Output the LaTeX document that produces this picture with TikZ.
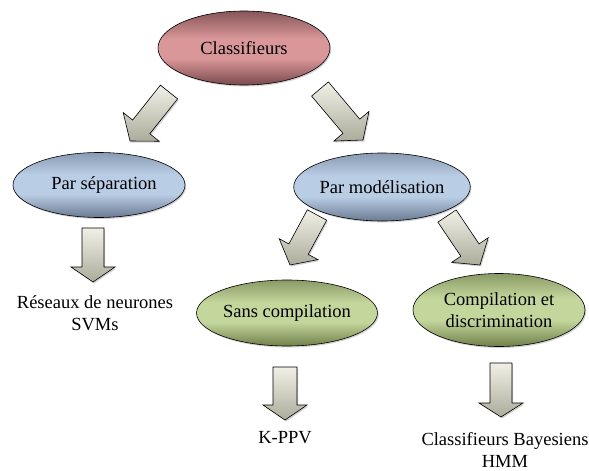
\documentclass[tikz,border=0pt]{standalone}
\usepackage{fontspec}
\setmainfont{Liberation Serif}
\usetikzlibrary{shapes.geometric,calc,shadows}
\definecolor{redtop}{HTML}{875659}
\definecolor{redmid}{HTML}{DA9799}
\definecolor{redbot}{HTML}{7A4A4D}
\definecolor{bluetop}{HTML}{8A9BB2}
\definecolor{bluemid}{HTML}{B9CDE5}
\definecolor{bluebot}{HTML}{6A7A91}
\definecolor{greentop}{HTML}{8A9A66}
\definecolor{greenmid}{HTML}{C3D69B}
\definecolor{greenbot}{HTML}{70804A}
\definecolor{arrlight}{HTML}{F0F0E6}
\definecolor{arrdark}{HTML}{ACAC9C}
\pgfdeclareverticalshading{redsh}{100bp}{color(0bp)=(redbot); color(25bp)=(redbot); color(43bp)=(redmid); color(56bp)=(redmid); color(75bp)=(redtop); color(100bp)=(redtop)}
\pgfdeclareverticalshading{bluesh}{100bp}{color(0bp)=(bluebot); color(25bp)=(bluebot); color(43bp)=(bluemid); color(58bp)=(bluemid); color(75bp)=(bluetop); color(100bp)=(bluetop)}
\pgfdeclareverticalshading{greensh}{100bp}{color(0bp)=(greenbot); color(25bp)=(greenbot); color(43bp)=(greenmid); color(58bp)=(greenmid); color(75bp)=(greentop); color(100bp)=(greentop)}
\tikzset{
  oval/.style={ellipse, draw=black, line width=0.6pt, inner sep=0pt,
    font=\fontsize{18.5}{21.5}\selectfont, align=center,
    drop shadow={shadow xshift=1.2pt, shadow yshift=-1.5pt, opacity=0.35}},
  redoval/.style={oval, shading=redsh},
  blueoval/.style={oval, shading=bluesh},
  greenoval/.style={oval, shading=greensh},
  leaf/.style={font=\fontsize{18.5}{21.5}\selectfont, align=center, inner sep=0pt},
  arrowbox/.style={draw=black, line width=0.6pt, top color=arrlight, bottom color=arrdark,
    drop shadow={shadow xshift=1.2pt, shadow yshift=-1.5pt, opacity=0.35}}
}
% block arrow: #1 start, #2 tip, #3 shaft half width, #4 head half width, #5 head length
\newcommand\blockarr[5]{%
  \coordinate (#1h) at ($(#2)!#5!(#1)$);
  \path[arrowbox] ($(#1)!#3!90:(#2)$) -- ($(#1h)!#3!90:(#2)$) -- ($(#1h)!#4!90:(#2)$)
    -- (#2) -- ($(#1h)!#4!-90:(#2)$) -- ($(#1h)!#3!-90:(#2)$) -- ($(#1)!#3!-90:(#2)$) -- cycle;
}
\begin{document}
\begin{tikzpicture}[x=1pt,y=-1pt]
\useasboundingbox[fill=white] (0,0) rectangle (589,471);

\node[redoval, minimum width=172pt, minimum height=74pt] (cls) at (244,48) {Classifieurs};
\node[blueoval, minimum width=172pt, minimum height=65pt] (sep) at (99,185) {\hspace{10pt}Par séparation};
\node[blueoval, minimum width=171pt, minimum height=68pt] (mod) at (382,187) {Par modélisation};
\node[greenoval, minimum width=170pt, minimum height=66pt] (sans) at (287,313) {Sans compilation};
\node[greenoval, minimum width=172pt, minimum height=73pt] (comp) at (499,310) {Compilation et\\discrimination};

\node[leaf] (res) at (95,313) {Réseaux de neurones\\SVMs};
\node[leaf] (kppv) at (285,438) {K-PPV};
\node[leaf] (bay) at (505,450) {Classifieurs Bayesiens\\HMM};

% arrow anchor coordinates
\coordinate (a1s) at (169,92);  \coordinate (a1t) at (130,141);
\coordinate (a2s) at (320,89);  \coordinate (a2t) at (363,140);
\coordinate (a3s) at (93,228);  \coordinate (a3t) at (93,282);
\coordinate (a4s) at (317,215); \coordinate (a4t) at (290,265);
\coordinate (a5s) at (447,216); \coordinate (a5t) at (480,265);
\coordinate (a6s) at (285,367); \coordinate (a6t) at (285,420);
\coordinate (a7s) at (501,363); \coordinate (a7t) at (501,417);

\blockarr{a1s}{a1t}{11pt}{23pt}{18pt}
\blockarr{a2s}{a2t}{11pt}{23pt}{18pt}
\blockarr{a3s}{a3t}{11pt}{22pt}{15pt}
\blockarr{a4s}{a4t}{11pt}{22pt}{18pt}
\blockarr{a5s}{a5t}{11pt}{22pt}{18pt}
\blockarr{a6s}{a6t}{12pt}{22pt}{15pt}
\blockarr{a7s}{a7t}{11pt}{22pt}{14pt}
\end{tikzpicture}
\end{document}
